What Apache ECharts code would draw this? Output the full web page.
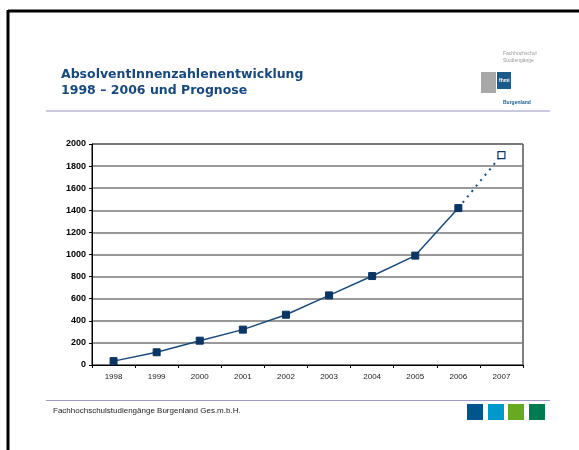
<!DOCTYPE html>
<html>
<head>
<meta charset="utf-8">
<script src="https://cdn.jsdelivr.net/npm/echarts@6/dist/echarts.min.js"></script>
<style>html,body{margin:0;padding:0;background:#fff;}#c{width:579px;height:450px;}</style>
</head>
<body>
<div id="c"></div>
<script>
const years = ['1998','1999','2000','2001','2002','2003','2004','2005','2006','2007'];
const actual = [35, 115, 220, 320, 455, 630, 805, 990, 1420, null];
const forecast = [null, null, null, null, null, null, null, null, 1420, 1900];
const yTicks = { min: 0, max: 2000, interval: 200 };
const titleLines = ['AbsolventInnenzahlenentwicklung', '1998 – 2006 und Prognose'];
const footerText = 'Fachhochschulstudiengänge Burgenland Ges.m.b.H.';
const squareColors = ['#00558f', '#0099cc', '#66aa22', '#007a50'];

const navy = '#0b3564';
const chart = echarts.init(document.getElementById('c'), null, { renderer: 'canvas' });

const graphics = [
  { type: 'line', shape: { x1: 8, y1: 11, x2: 579, y2: 11 }, style: { stroke: '#000', lineWidth: 3 } },
  { type: 'line', shape: { x1: 8, y1: 10, x2: 8, y2: 450 }, style: { stroke: '#000', lineWidth: 3 } },
  { type: 'line', shape: { x1: 46, y1: 111, x2: 550, y2: 111 }, style: { stroke: '#9494c4', lineWidth: 1 } },
  { type: 'line', shape: { x1: 46, y1: 400.5, x2: 550, y2: 400.5 }, style: { stroke: '#9c9ccc', lineWidth: 1 } },
  { type: 'text', left: 53, top: 407, style: { text: footerText, font: '8px "Liberation Sans", Arial, sans-serif', fill: '#222' } },
  // logo
  { type: 'text', left: 503, top: 50, style: { text: 'Fachhochschul\nStudiengänge', font: '5px "Liberation Sans", sans-serif', fill: '#999', lineHeight: 7 } },
  { type: 'rect', shape: { x: 481, y: 72, width: 15, height: 21 }, style: { fill: '#a8a8a8' } },
  { type: 'rect', shape: { x: 497, y: 72, width: 14, height: 17 }, style: { fill: '#1d5a8c' } },
  { type: 'text', left: 499, top: 78, style: { text: 'fhmi', font: 'bold 5px "Liberation Sans", sans-serif', fill: '#fff' } },
  { type: 'text', left: 503, top: 100, style: { text: 'Burgenland', font: 'bold 5px "Liberation Sans", sans-serif', fill: '#1d5a8c' } }
];
squareColors.forEach(function (c, i) {
  const xs = [467, 488, 508, 529];
  graphics.push({ type: 'rect', shape: { x: xs[i], y: 404, width: 16, height: 16 }, style: { fill: c } });
});

chart.setOption({
  animation: false,
  title: {
    text: titleLines.join('\n'),
    left: 56, top: 62,
    textStyle: { fontFamily: '"DejaVu Sans", Verdana, sans-serif', fontWeight: 'bold', fontSize: 12.5, color: '#17487e', lineHeight: 16 }
  },
  graphic: graphics,
  grid: { left: 92, right: 56, top: 144, height: 221, show: true, borderColor: '#000', borderWidth: 1, backgroundColor: 'transparent' },
  xAxis: {
    type: 'category', data: years, boundaryGap: true,
    axisLine: { lineStyle: { color: '#000', width: 1 } },
    axisTick: { show: true, inside: false, length: 3, lineStyle: { color: '#000' } },
    axisLabel: { fontFamily: '"Liberation Sans", Arial, sans-serif', fontSize: 8, color: '#222', margin: 8 },
    splitLine: { show: false }
  },
  yAxis: {
    type: 'value', min: yTicks.min, max: yTicks.max, interval: yTicks.interval,
    axisLine: { show: true, lineStyle: { color: '#000', width: 1 } },
    axisTick: { show: true, length: 3, lineStyle: { color: '#000' } },
    axisLabel: { fontFamily: '"Liberation Sans", Arial, sans-serif', fontSize: 9, fontWeight: 'bold', color: '#000', margin: 6,
      formatter: function (v) { return String(v); } },
    splitLine: { show: true, lineStyle: { color: '#777', width: 1.6 } }
  },
  series: [
    {
      type: 'line', data: actual, symbol: 'rect', symbolSize: 7,
      lineStyle: { color: '#1a4a7c', width: 1.5 },
      itemStyle: { color: navy, borderColor: navy }
    },
    {
      type: 'line', data: forecast.map(function (v, i) { return i === 8 ? { value: v, symbol: 'none' } : v; }),
      symbol: 'rect', symbolSize: 7,
      lineStyle: { color: '#1a4a7c', width: 2, type: [2, 5] },
      itemStyle: { color: '#fff', borderColor: navy, borderWidth: 1.2 }
    }
  ]
});
</script>
</body>
</html>
